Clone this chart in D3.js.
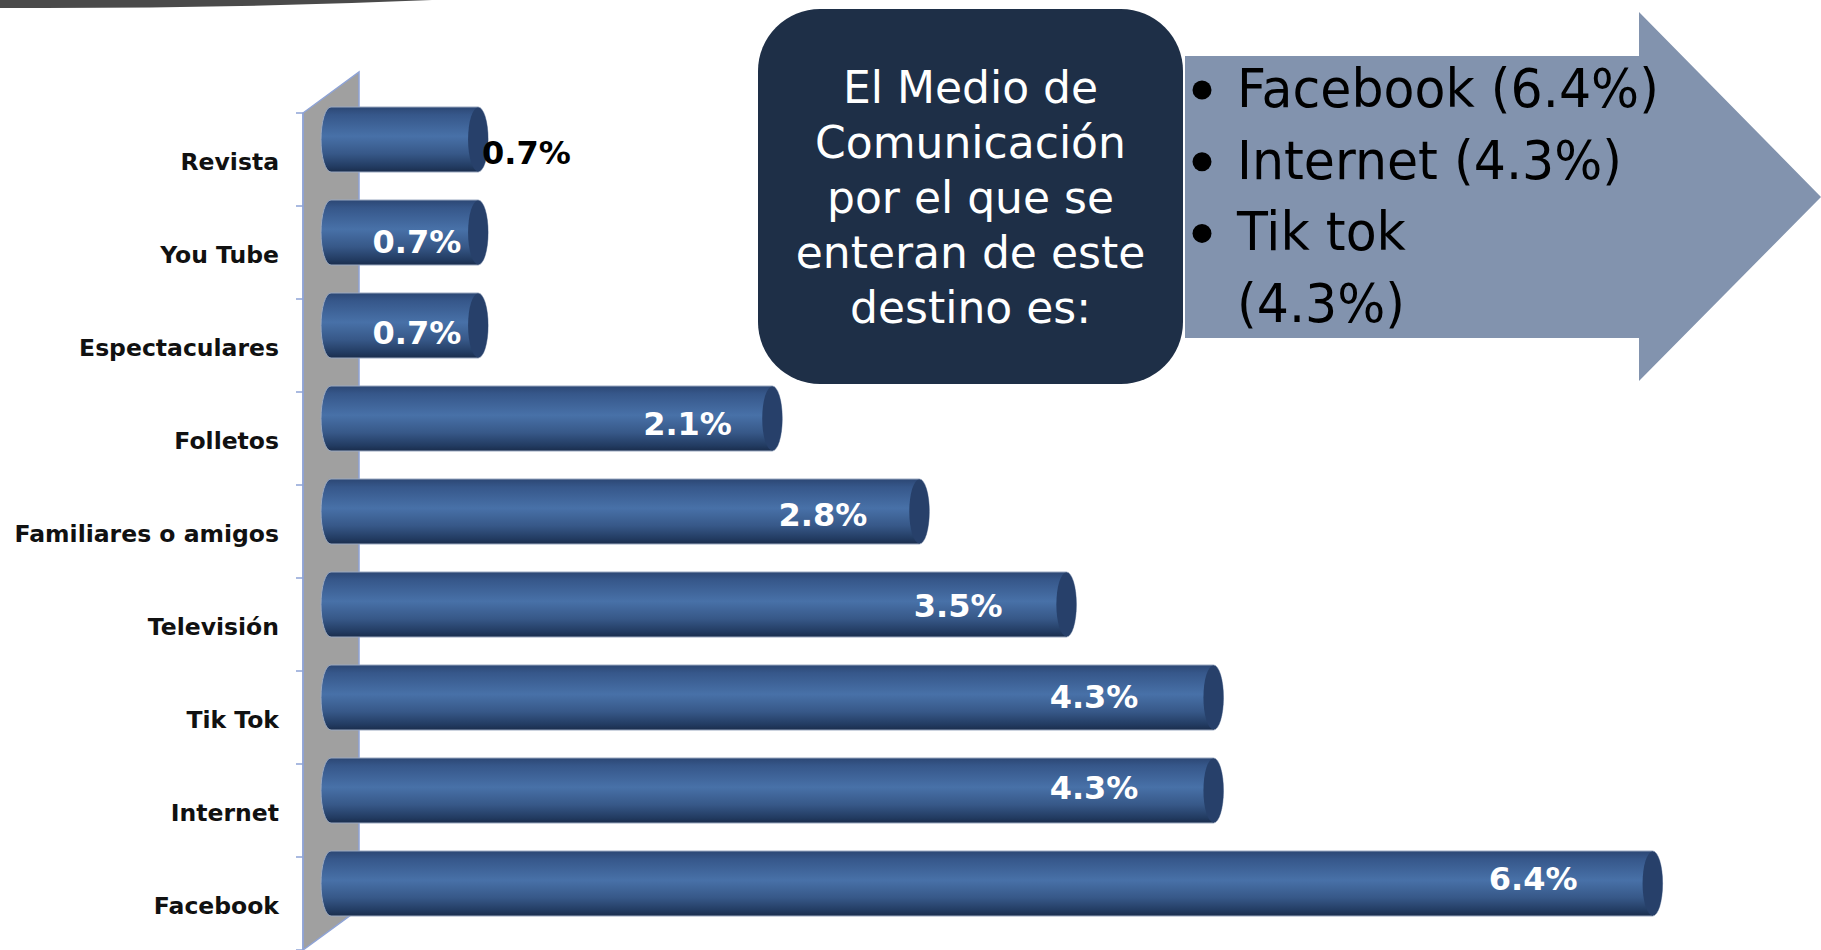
<!DOCTYPE html>
<html>
<head>
<meta charset="utf-8">
<script src="https://cdn.jsdelivr.net/npm/d3@7"></script>
<style>
  html, body { margin: 0; padding: 0; background: #ffffff; }
  svg { display: block; }
</style>
</head>
<body>
<svg id="chart" width="1821" height="950"></svg>
<script>
// ---- data ----
const categories = ["Revista", "You Tube", "Espectaculares", "Folletos", "Familiares o amigos", "Televisión", "Tik Tok", "Internet", "Facebook"];
const values = [0.71, 0.71, 0.71, 2.13, 2.84, 3.55, 4.26, 4.26, 6.38];
const calloutLines = ["El Medio de", "Comunicación", "por el que se", "enteran de este", "destino es:"];
const bulletItems = [["Facebook (6.4%)"], ["Internet (4.3%)"], ["Tik tok", "(4.3%)"]];
const outsideLabelCategory = "Revista";

const svg = d3.select("#chart");

// top decorative band
svg.append("path")
  .attr("d", "M0,0 L432,0 Q220,9 0,8 Z")
  .attr("fill", "#4a4a4a");

// scales
const y = d3.scaleBand().domain(categories).range([113, 950]).paddingInner(0).paddingOuter(0);
const x = d3.scaleLinear().domain([0, 7]).range([341, 1791]);
const bw = y.bandwidth();
const depthX = 56, depthY = -41;
const axisX = 303;
const barH = 65, ry = barH / 2, rx = 10;
const barCenter = c => y(c) + bw / 2 - 20;

// gradient
const defs = svg.append("defs");
const grad = defs.append("linearGradient").attr("id", "barGrad")
  .attr("x1", 0).attr("y1", 0).attr("x2", 0).attr("y2", 1);
[[0, "#2c4774"], [0.12, "#36578a"], [0.45, "#4871a8"], [0.72, "#375888"], [0.92, "#223b61"], [1, "#1a2d4c"]]
  .forEach(([o, c]) => grad.append("stop").attr("offset", o).attr("stop-color", c));

// back wall (gray)
const [r0, r1] = y.range();
svg.append("polygon")
  .attr("points", [[axisX, r0], [axisX + depthX, r0 + depthY], [axisX + depthX, r1 + depthY], [axisX, r1]].map(p => p.join(",")).join(" "))
  .attr("fill", "#a0a0a0")
  .attr("stroke", "#8ea3d6")
  .attr("stroke-width", 1.5);

// axis line + ticks at band boundaries
svg.append("line")
  .attr("x1", axisX).attr("x2", axisX).attr("y1", r0).attr("y2", r1)
  .attr("stroke", "#8ea3d6").attr("stroke-width", 1.5);
const boundaries = categories.map(c => y(c)).concat([r1]);
svg.selectAll("line.tick").data(boundaries).enter().append("line")
  .attr("class", "tick")
  .attr("x1", axisX - 7).attr("x2", axisX)
  .attr("y1", d => d).attr("y2", d => d)
  .attr("stroke", "#8ea3d6").attr("stroke-width", 1.5);

// category labels
svg.selectAll("text.cat").data(categories).enter().append("text")
  .attr("class", "cat")
  .attr("x", 279)
  .attr("y", d => y(d) + bw / 2 + 2.5)
  .attr("text-anchor", "end")
  .attr("dominant-baseline", "central")
  .attr("font-family", "'DejaVu Sans', Verdana, sans-serif")
  .attr("font-weight", "bold")
  .attr("font-size", 23.5)
  .attr("fill", "#111")
  .text(d => d);

// cylinders
const data = categories.map((c, i) => ({ c, v: values[i], i }));
const bars = svg.selectAll("g.bar").data(data).enter().append("g").attr("class", "bar");

bars.append("path")
  .attr("d", d => {
    const cy = barCenter(d.c), top = cy - ry, bot = cy + ry;
    const cx0 = x(0) - rx, cx1 = x(d.v) - rx;
    return `M${cx0},${top} L${cx1},${top} A${rx},${ry} 0 0 1 ${cx1},${bot} L${cx0},${bot} A${rx},${ry} 0 0 1 ${cx0},${top} Z`;
  })
  .attr("fill", "url(#barGrad)")
  .attr("stroke", "#9aa8c0")
  .attr("stroke-width", 1);

bars.append("ellipse")
  .attr("cx", d => x(d.v) - rx)
  .attr("cy", d => barCenter(d.c))
  .attr("rx", rx)
  .attr("ry", ry - 0.5)
  .attr("fill", "#27406a");

// value labels
const fmt = v => d3.format(".1f")(v) + "%";
const isOut = d => d.c === outsideLabelCategory;
bars.append("text")
  .attr("x", d => isOut(d) ? x(d.v) - 6 : x(d.v) - Math.min(85, 15 + 0.08 * (x(d.v) - x(0))))
  .attr("y", d => barCenter(d.c) + (isOut(d) ? 13 : 11 - 1.9 * d.i))
  .attr("text-anchor", d => isOut(d) ? "start" : "end")
  .attr("dominant-baseline", "central")
  .attr("font-family", "'DejaVu Sans', Verdana, sans-serif")
  .attr("font-weight", "bold")
  .attr("font-size", 32)
  .attr("fill", d => isOut(d) ? "#000" : "#fff")
  .text(d => fmt(d.v));

// arrow callout
const arrow = { left: 1185, top: 56, bottom: 338, headX: 1639, headTop: 12, headBottom: 381, tipX: 1821 };
svg.append("path")
  .attr("d", `M${arrow.left},${arrow.top} L${arrow.headX},${arrow.top} L${arrow.headX},${arrow.headTop} L${arrow.tipX},${(arrow.top + arrow.bottom) / 2} L${arrow.headX},${arrow.headBottom} L${arrow.headX},${arrow.bottom} L${arrow.left},${arrow.bottom} Z`)
  .attr("fill", "#8293ae");

// bullet list
const lineStep = 71.7;
let lineIdx = 0;
const listG = svg.append("g");
bulletItems.forEach(item => {
  item.forEach((line, j) => {
    const by = 107 + lineIdx * lineStep;
    if (j === 0) {
      listG.append("circle").attr("cx", 1202).attr("cy", by - 17).attr("r", 9.5).attr("fill", "#000");
    }
    listG.append("text")
      .attr("transform", `translate(1237,${by}) scale(0.955,1)`)
      .attr("font-family", "'DejaVu Sans', Tahoma, sans-serif")
      .attr("font-size", 53)
      .attr("fill", "#000")
      .text(line);
    lineIdx++;
  });
});

// dark rounded box
svg.append("rect")
  .attr("x", 758).attr("y", 9).attr("width", 425).attr("height", 375)
  .attr("rx", 62).attr("ry", 62)
  .attr("fill", "#1e2f47");

svg.selectAll("text.callout").data(calloutLines).enter().append("text")
  .attr("class", "callout")
  .attr("x", 970.5)
  .attr("y", (d, i) => 103 + i * 55)
  .attr("text-anchor", "middle")
  .attr("font-family", "'DejaVu Sans', Tahoma, sans-serif")
  .attr("font-size", 44)
  .attr("fill", "#ffffff")
  .text(d => d);
</script>
</body>
</html>
